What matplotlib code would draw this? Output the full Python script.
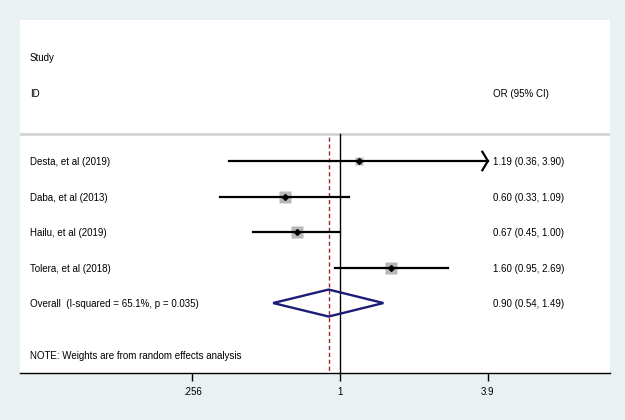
import numpy as np
import matplotlib
matplotlib.use("Agg")
import matplotlib.pyplot as plt
from matplotlib.patches import Polygon
import matplotlib.transforms as mtransforms

plt.rcParams['font.family'] = ['Liberation Sans', 'DejaVu Sans']

# study data
studies = ["Desta, et al (2019)", "Daba, et al (2013)", "Hailu, et al (2019)", "Tolera, et al (2018)"]
or_est = [1.19, 0.60, 0.67, 1.60]
ci_low = [0.36, 0.33, 0.45, 0.95]
ci_high = [3.90, 1.09, 1.00, 2.69]
weights = [12.0, 28.0, 34.0, 30.0]  # approx, only for box size

overall_label = "Overall  (I-squared = 65.1%, p = 0.035)"
overall = [0.90, 0.54, 1.49]
note = "NOTE: Weights are from random effects analysis"

tick_vals = [0.256, 1, 3.9]
tick_labels = [".256", "1", "3.9"]

bg = "#eaf1f3"
fig = plt.figure(figsize=(6.25, 4.2), dpi=100, facecolor=bg)
ax = fig.add_axes([20 / 625, 47 / 420, 590 / 625, 353 / 420])
ax.set_facecolor("white")
ax.set_xscale("log")
ax.set_xlim(0.0525, 12.0)
ax.set_ylim(5.97, -3.97)

for s in ["top", "left", "right"]:
    ax.spines[s].set_visible(False)
ax.spines["bottom"].set_linewidth(1.0)

ax.set_xticks(tick_vals)
ax.set_xticklabels(tick_labels, fontsize=7)
ax.minorticks_off()
ax.set_yticks([])
ax.tick_params(axis="x", length=6, width=1, pad=4)

fs = 7
trans = mtransforms.blended_transform_factory(ax.transAxes, ax.transData)
lx = 10 / 590
rx = 473 / 590

# headers
ax.text(lx, -2.9, "Study", transform=trans, fontsize=fs, va="center")
ax.text(lx, -1.9, "ID", transform=trans, fontsize=fs, va="center")
ax.text(rx, -1.9, "OR (95% CI)", transform=trans, fontsize=fs, va="center")
ax.axhline(-0.76, color="#d4d4d4", lw=2)

# reference lines
ax.plot([1, 1], [-0.76, 5.97], color="black", lw=1, zorder=2)
ax.plot([overall[0], overall[0]], [-0.68, 5.97], color="#a02828", lw=1,
        ls=(0, (3, 2)), zorder=2)

xmax = tick_vals[-1]
for i, (name, e, lo, hi, w) in enumerate(zip(studies, or_est, ci_low, ci_high, weights)):
    ax.text(lx, i + 0.03, name, transform=trans, fontsize=fs, va="center")
    ax.text(rx, i + 0.03, f"{e:.2f} ({lo:.2f}, {hi:.2f})", transform=trans,
            fontsize=fs, va="center")
    # gray box, area ~ weight
    ax.plot(e, i, marker="s", ms=np.sqrt(w) * 1.55, color="#b8b8b8", mec="none", zorder=3)
    if hi >= xmax:
        ax.plot([lo, xmax], [i, i], color="black", lw=1.6, zorder=4)
        ax.plot([xmax * 0.95, xmax, xmax * 0.95], [i - 0.26, i, i + 0.26],
                color="black", lw=1.6, zorder=4, solid_joinstyle="miter")
    else:
        ax.plot([lo, hi], [i, i], color="black", lw=1.6, zorder=4)
    ax.plot(e, i, marker="D", ms=3, color="black", zorder=5)

# overall diamond
yo = len(studies)
ax.text(lx, yo + 0.03, overall_label, transform=trans, fontsize=fs, va="center")
ax.text(rx, yo + 0.03, f"{overall[0]:.2f} ({overall[1]:.2f}, {overall[2]:.2f})",
        transform=trans, fontsize=fs, va="center")
dia = Polygon([[overall[1], yo], [overall[0], yo - 0.38], [overall[2], yo],
               [overall[0], yo + 0.38]], closed=True, fill=False,
              edgecolor="#1c1c78", lw=1.7, zorder=4)
ax.add_patch(dia)

ax.text(lx, 5.48, note, transform=trans, fontsize=fs, va="center")

fig.savefig("out.png", dpi=100, facecolor=bg)
